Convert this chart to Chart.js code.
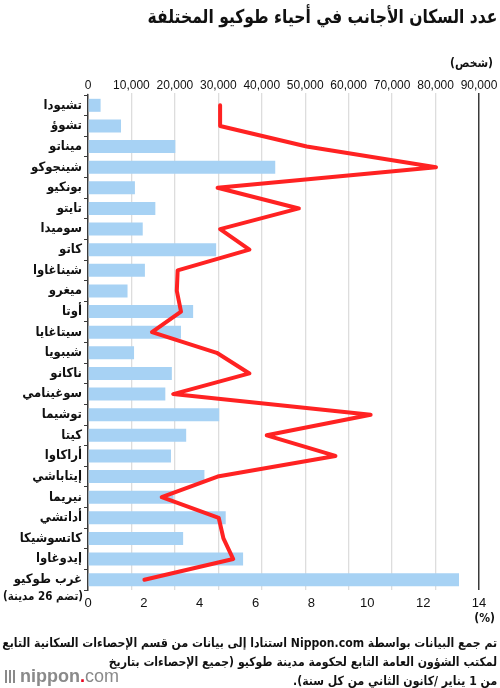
<!DOCTYPE html>
<html lang="ar">
<head>
<meta charset="utf-8">
<script src="https://cdn.jsdelivr.net/npm/chart.js@4.4.0/dist/chart.umd.min.js"></script>
<style>
  html, body { margin: 0; padding: 0; background: #fff; }
  #wrap { position: relative; width: 500px; height: 688px; overflow: hidden; }
  #chart { position: absolute; left: 0; top: 0; }
  .txt { position: absolute; font-family: 'DejaVu Sans Condensed', 'DejaVu Sans', sans-serif; font-stretch: condensed; color: #111; white-space: nowrap; direction: rtl; transform-origin: right center; }
  #title { right: 3px; top: 5px; font-size: 19px; font-weight: bold; transform: scaleX(0.91); }
  #unitTop { right: 7px; top: 56px; font-size: 12px; font-weight: bold; }
  #unitBottom { right: 5px; top: 611px; font-size: 12px; font-weight: bold; }
  #note { right: 3px; top: 633px; font-size: 12.5px; font-weight: bold; line-height: 19px; text-align: right; transform: scaleX(0.97); }
  #logo { position: absolute; left: 5px; top: 666px; font-family: 'Liberation Sans', Arial, sans-serif; font-size: 18px; color: #8a8a8a; white-space: nowrap; }
  #logo b { font-weight: bold; }
  #logo .dot { color: #e8001c; font-weight: bold; }
  #logo .bars { display: inline-block; width: 11px; height: 13px; margin-right: 4px; vertical-align: -1px;
    background: repeating-linear-gradient(90deg, #8a8a8a 0 2px, transparent 2px 4px); }
</style>
</head>
<body>
<div id="wrap">
  <canvas id="chart" width="500" height="688"></canvas>
  <div class="txt" id="title">عدد السكان الأجانب في أحياء طوكيو المختلفة</div>
  <div class="txt" id="unitTop">(شخص)</div>
  <div class="txt" id="unitBottom">(%)</div>
  <div class="txt" id="note">تم جمع البيانات بواسطة Nippon.com استنادا إلى بيانات من قسم الإحصاءات السكانية التابع<br>لمكتب الشؤون العامة التابع لحكومة مدينة طوكيو (جميع الإحصاءات بتاريخ<br>من 1 يناير /كانون الثاني من كل سنة).</div>
  <div id="logo"><span class="bars"></span><b>nippon</b><span class="dot">.</span>com</div>
</div>
<script>
  // ward names, top to bottom
  const wards = [
    'تشيودا', 'تشوؤ', 'ميناتو', 'شينجوكو', 'بونكيو', 'تايتو', 'سوميدا', 'كاتو',
    'شيناغاوا', 'ميغرو', 'أوتا', 'سيتاغايا', 'شيبويا', 'ناكانو', 'سوغينامي', 'توشيما',
    'كيتا', 'أراكاوا', 'إيتاباشي', 'نيريما', 'أداتشي', 'كاتسوشيكا', 'إيدوغاوا', 'غرب طوكيو',
  ];
  const lastNote = '(تضم 26 مدينة)';

  // foreign residents (persons) – bars, top axis
  const residents = [
    2900, 7600, 20100, 43100, 10800, 15500, 12600, 29500,
    13100, 9100, 24200, 21400, 10600, 19300, 17800, 30200,
    22600, 19100, 26800, 19700, 31700, 21900, 35700, 85400,
  ];

  // share of population (%) – red line, bottom axis
  const sharePct = [
    4.73, 4.73, 7.83, 12.46, 4.64, 7.55, 4.73, 5.78,
    3.21, 3.18, 3.33, 2.29, 4.61, 5.78, 3.05, 10.12,
    6.40, 8.86, 4.64, 2.64, 4.68, 4.85, 5.20, 2.02,
  ];

  const personTicks = [0, 10000, 20000, 30000, 40000, 50000, 60000, 70000, 80000, 90000];
  const pctTicks = [0, 2, 4, 6, 8, 10, 12, 14];

  const AR_FAMILY = "'DejaVu Sans Condensed', 'DejaVu Sans', sans-serif";
  const LABEL_FONT = { family: AR_FAMILY, size: 13, weight: 'bold' };
  const NUM_FONT = { family: "'Liberation Sans', Arial, sans-serif", size: 12 };

  // second line under the last category label
  const noteLine = {
    id: 'noteLine',
    afterDraw(chart) {
      const y = chart.scales.y;
      const c = chart.ctx;
      c.save();
      c.font = `bold 11.5px ${AR_FAMILY}`;
      c.fillStyle = '#111';
      c.textAlign = 'right';
      c.textBaseline = 'middle';
      c.direction = 'rtl';
      c.fillText(lastNote, y.right - 5, y.getPixelForValue(wards.length - 1) + 17);
      c.restore();
    },
  };

  new Chart(document.getElementById('chart'), {
    data: {
      labels: wards,
      datasets: [
        {
          type: 'line',
          indexAxis: 'y',
          data: sharePct,
          xAxisID: 'x2',
          borderColor: '#ff2222',
          borderWidth: 4,
          borderJoinStyle: 'round',
          borderCapStyle: 'round',
          pointRadius: 0,
          tension: 0,
          order: 0,
        },
        {
          type: 'bar',
          indexAxis: 'y',
          data: residents,
          xAxisID: 'x',
          backgroundColor: '#a7d2f4',
          borderWidth: 0,
          barPercentage: 0.63,
          categoryPercentage: 1,
          order: 1,
        },
      ],
    },
    options: {
      indexAxis: 'y',
      responsive: false,
      animation: false,
      layout: { padding: { top: 0, right: 21, bottom: 63, left: 0 } },
      plugins: { legend: { display: false }, tooltip: { enabled: false } },
      scales: {
        x: {
          type: 'linear',
          axis: 'x',
          position: 'top',
          min: 0,
          max: 90000,
          afterBuildTicks: s => { s.ticks = personTicks.map(v => ({ value: v })); },
          afterFit: s => { s.height = 95; },
          ticks: {
            color: '#111',
            font: NUM_FONT,
            padding: 0,
            maxRotation: 0,
            callback: v => v.toLocaleString('en-US'),
          },
          grid: {
            color: c => (c.tick && c.tick.value === 90000 ? '#3a3a3a' : '#dddddd'),
            lineWidth: c => (c.tick && c.tick.value === 90000 ? 1.5 : 1.3),
            tickLength: 2,
          },
          border: { display: false },
        },
        x2: {
          type: 'linear',
          axis: 'x',
          position: 'bottom',
          min: 0,
          max: 14,
          afterBuildTicks: s => { s.ticks = pctTicks.map(v => ({ value: v })); },
          afterFit: s => { s.height = 35; },
          ticks: { color: '#111', font: { ...NUM_FONT, size: 13 }, padding: 6, maxRotation: 0 },
          grid: { display: false, drawTicks: false },
          border: { display: false },
        },
        y: {
          type: 'category',
          position: 'left',
          afterFit: s => { s.width = 88; },
          ticks: { color: '#111', font: LABEL_FONT, padding: 2, autoSkip: false },
          grid: { drawOnChartArea: false, tickLength: 4, color: '#3a3a3a' },
          border: { color: '#3a3a3a', width: 1.5 },
        },
      },
    },
    plugins: [noteLine],
  });
</script>
</body>
</html>
